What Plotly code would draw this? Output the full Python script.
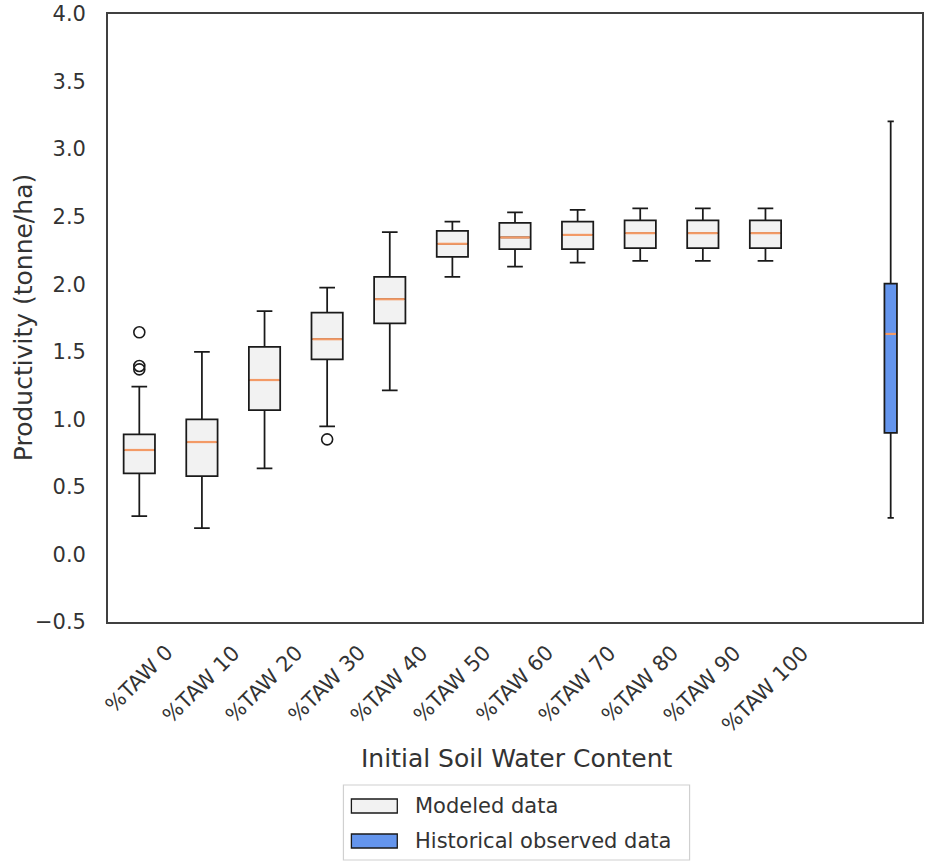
import plotly.graph_objects as go

# Modeled yield distributions by initial soil water content (tonne/ha)
categories = ["%TAW 0", "%TAW 10", "%TAW 20", "%TAW 30", "%TAW 40", "%TAW 50",
              "%TAW 60", "%TAW 70", "%TAW 80", "%TAW 90", "%TAW 100"]
positions = [1, 2, 3, 4, 5, 6, 7, 8, 9, 10, 11]
lower_whisker = [0.284, 0.195, 0.637, 0.948, 1.215, 2.054, 2.131, 2.160, 2.173, 2.173, 2.173]
q1 = [0.600, 0.580, 1.069, 1.444, 1.711, 2.202, 2.259, 2.259, 2.267, 2.267, 2.267]
median = [0.773, 0.832, 1.291, 1.593, 1.889, 2.299, 2.346, 2.365, 2.378, 2.378, 2.378]
q3 = [0.889, 1.000, 1.536, 1.790, 2.054, 2.395, 2.454, 2.464, 2.472, 2.472, 2.472]
upper_whisker = [1.242, 1.499, 1.800, 1.975, 2.385, 2.464, 2.531, 2.551, 2.561, 2.561, 2.561]

# Outliers (position, value)
outlier_pos = [1, 1, 1, 4]
outlier_val = [1.644, 1.395, 1.370, 0.852]

# Historical observed yields
obs_position = [13]
obs_lower = [0.27]
obs_q1 = [0.90]
obs_median = [1.632]
obs_q3 = [2.005]
obs_upper = [3.205]

legend_labels = ["Modeled data", "Historical observed data"]
y_ticks = [-0.5, 0.0, 0.5, 1.0, 1.5, 2.0, 2.5, 3.0, 3.5, 4.0]

W, H = 925, 862
ML, MR, MT, MB = 108, 1, 14, 240
PW, PH = W - ML - MR, H - MT - MB

TEXT = "#333333"
FONT = "DejaVu Sans"
EDGE = "#1a1a1a"
MODEL_FILL = "#f2f2f2"
OBS_FILL = "#6495ED"
MEDIAN_C = "#f39a66"


def px_x(px):
    return (px - ML) / PW


def px_y(py):
    return (H - MB - py) / PH


fig = go.Figure()

fig.add_trace(go.Box(
    x=positions, q1=q1, median=median, q3=q3,
    lowerfence=lower_whisker, upperfence=upper_whisker,
    width=0.5, whiskerwidth=0.5, fillcolor=MODEL_FILL,
    line=dict(color=EDGE, width=1.75), boxpoints=False,
    showlegend=False, hoverinfo="skip",
))

fig.add_trace(go.Box(
    x=obs_position, q1=obs_q1, median=obs_median, q3=obs_q3,
    lowerfence=obs_lower, upperfence=obs_upper,
    width=0.2, whiskerwidth=0.5, fillcolor=OBS_FILL,
    line=dict(color=EDGE, width=1.75), boxpoints=False,
    showlegend=False, hoverinfo="skip",
))

# orange median lines drawn over the boxes
mx, my = [], []
for p, m in zip(positions, median):
    mx += [p - 0.235, p + 0.235, None]
    my += [m, m, None]
for p, m in zip(obs_position, obs_median):
    mx += [p - 0.085, p + 0.085, None]
    my += [m, m, None]
fig.add_trace(go.Scatter(x=mx, y=my, mode="lines",
                         line=dict(color=MEDIAN_C, width=2.2),
                         showlegend=False, hoverinfo="skip"))

fig.add_trace(go.Scatter(
    x=outlier_pos, y=outlier_val, mode="markers",
    marker=dict(symbol="circle-open", size=11, color=EDGE, line=dict(width=1.6)),
    showlegend=False, hoverinfo="skip",
))

annotations = []
# rotated category labels, centered beneath each box
for p, c in zip(positions, categories):
    annotations.append(dict(
        x=p, xref="x", y=0, yref="paper", yshift=-16,
        text=c, textangle=-45, showarrow=False,
        xanchor="center", yanchor="top",
        font=dict(family=FONT, size=21, color=TEXT),
    ))

annotations.append(dict(
    x=px_x(518), xref="paper", y=px_y(758), yref="paper",
    text="Initial Soil Water Content", showarrow=False,
    xanchor="center", yanchor="middle",
    font=dict(family=FONT, size=25, color=TEXT),
))
annotations.append(dict(
    x=px_x(23), xref="paper", y=px_y(318), yref="paper",
    text="Productivity (tonne/ha)", textangle=-90, showarrow=False,
    xanchor="center", yanchor="middle",
    font=dict(family=FONT, size=25, color=TEXT),
))

# legend frame, swatches and labels
shapes = [
    dict(type="rect", xref="paper", yref="paper",
         x0=px_x(344), x1=px_x(691), y0=px_y(860), y1=px_y(785),
         line=dict(color="#d0d0d0", width=1.2), fillcolor="white", layer="above"),
]
swatch_fill = [MODEL_FILL, OBS_FILL]
row_y = [806, 841]
for lab, fc, ry in zip(legend_labels, swatch_fill, row_y):
    shapes.append(dict(type="rect", xref="paper", yref="paper",
                       x0=px_x(352), x1=px_x(398), y0=px_y(ry + 7), y1=px_y(ry - 7),
                       line=dict(color=EDGE, width=1.3), fillcolor=fc, layer="above"))
    annotations.append(dict(
        x=px_x(414), xref="paper", y=px_y(ry), yref="paper",
        text=lab, showarrow=False, xanchor="left", yanchor="middle",
        font=dict(family=FONT, size=21, color=TEXT),
    ))

fig.update_layout(
    width=W, height=H,
    margin=dict(l=ML, r=MR, t=MT, b=MB, pad=0),
    paper_bgcolor="white", plot_bgcolor="white",
    showlegend=False, boxmode="overlay",
    annotations=annotations, shapes=shapes,
    font=dict(family=FONT, color=TEXT),
)
fig.update_xaxes(
    range=[0.5, 13.5], showticklabels=False, ticks="", showgrid=False,
    zeroline=False, showline=True, mirror=True, linecolor="#404040", linewidth=1.75,
)
fig.update_yaxes(
    range=[-0.5, 4.0], tickvals=y_ticks, tickformat=".1f", ticks="",
    showgrid=False, zeroline=False, showline=True, mirror=True,
    linecolor="#404040", linewidth=1.75, ticklabelstandoff=16,
    tickfont=dict(family=FONT, size=21, color=TEXT),
)

fig.write_html("out.html")
